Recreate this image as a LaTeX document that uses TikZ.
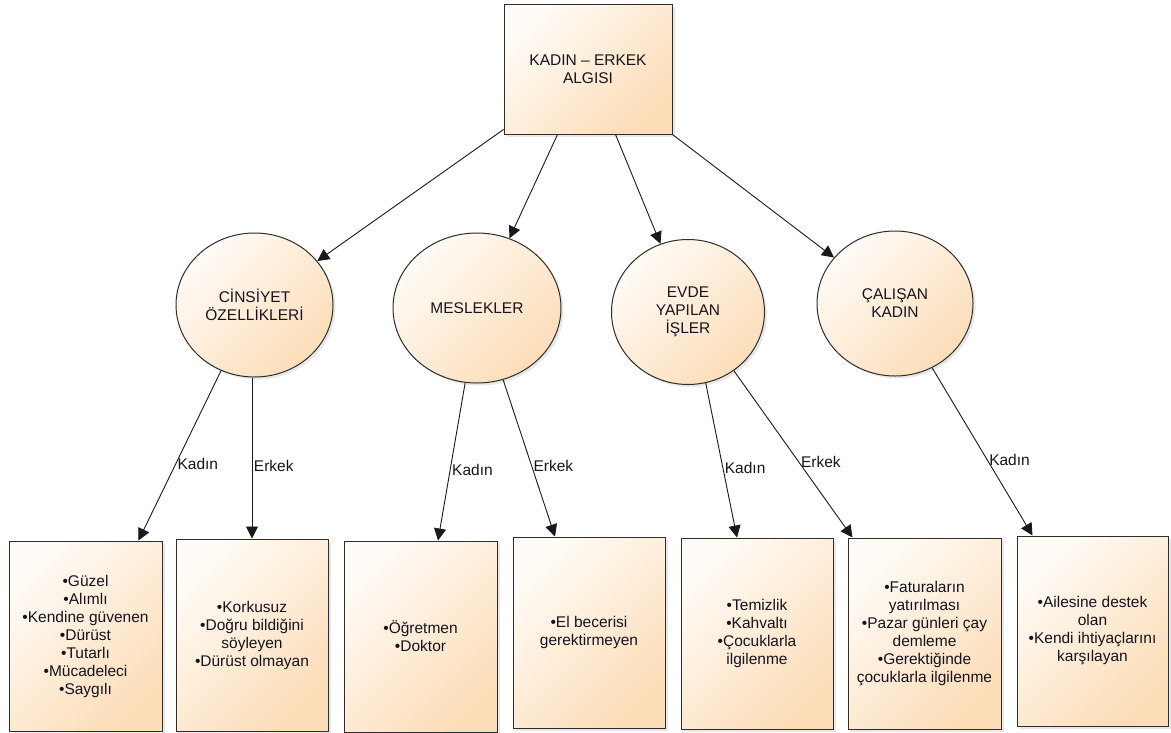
\documentclass[tikz,border=0pt]{standalone}
\usepackage{fontspec}
\setmainfont{Liberation Sans}
\usetikzlibrary{arrows.meta,shapes.geometric,shadows}
\definecolor{fillA}{RGB}{255,251,246}
\definecolor{fillB}{RGB}{252,221,184}
\definecolor{edge}{RGB}{45,45,45}
\definecolor{txt}{RGB}{20,20,30}
\begin{document}
\begin{tikzpicture}[x=1pt,y=-1pt,
  every node/.style={font=\fontsize{15.5}{18}\selectfont, text=txt},
  fillstyle/.style={top color=fillA, bottom color=fillB, shading angle=45,
    draw=edge, line width=1pt,
    drop shadow={shadow xshift=2.5pt, shadow yshift=-2.5pt, opacity=0.18}},
  box/.style={fillstyle, rectangle, inner sep=0pt, align=center},
  circ/.style={fillstyle, ellipse, inner sep=0pt, align=center},
  arr/.style={draw=black!90, line width=0.9pt, -{Triangle[length=12pt,width=12pt]}},
  lab/.style={anchor=west, inner sep=1.5pt, pos=0.55}]
\useasboundingbox (0,0) rectangle (1171,732);

% top
\node[box, minimum width=168pt, minimum height=130pt] (top) at (588,69) {KADIN – ERKEK\\ALGISI};

% circles
\node[circ, minimum width=157pt, minimum height=144pt] (c1) at (254.5,305) {CİNSİYET\\ÖZELLİKLERİ};
\node[circ, minimum width=168pt, minimum height=150pt] (c2) at (477,308) {MESLEKLER};
\node[circ, minimum width=153pt, minimum height=145pt] (c3) at (688,312) {EVDE\\YAPILAN\\İŞLER};
\node[circ, minimum width=156pt, minimum height=145pt] (c4) at (895,303.5) {ÇALIŞAN\\KADIN};

% bottom boxes
\node[box, minimum width=153pt, minimum height=190pt] (b1) at (85.5,636) {•Güzel\\•Alımlı\\•Kendine güvenen\\•Dürüst\\•Tutarlı\\•Mücadeleci\\•Saygılı};
\node[box, minimum width=152pt, minimum height=192pt] (b2) at (252,635) {•Korkusuz\\•Doğru bildiğini\\söyleyen\\•Dürüst olmayan};
\node[box, minimum width=153pt, minimum height=191pt] (b3) at (420.5,636.5) {•Öğretmen\\•Doktor};
\node[box, minimum width=152pt, minimum height=191pt] (b4) at (589,632.5) {•El becerisi\\gerektirmeyen};
\node[box, minimum width=152pt, minimum height=191pt] (b5) at (757,633.5) {•Temizlik\\•Kahvaltı\\•Çocuklarla\\ilgilenme};
\node[box, minimum width=153pt, minimum height=191pt] (b6) at (924.5,633.5) {•Faturaların\\yatırılması\\•Pazar günleri çay\\demleme\\•Gerektiğinde\\çocuklarla ilgilenme};
\node[box, minimum width=151pt, minimum height=190pt] (b7) at (1092.5,631) {•Ailesine destek\\olan\\•Kendi ihtiyaçlarını\\karşılayan};

% connectors from top
\draw[arr] ([yshift=5pt]top.south west) -- (c1.35);
\draw[arr] ([xshift=54pt]top.south west) -- (c2.65);
\draw[arr] ([xshift=112pt]top.south west) -- (c3.112);
\draw[arr] (top.south east) -- (c4.143);

% connectors to bottom boxes
\draw[arr] (c1.243) -- node[lab]{Kadın} ([xshift=-24pt]b1.north east);
\draw[arr] (b2.north |- c1.south) -- node[lab]{Erkek} (b2.north);
\draw[arr] (c2.261) -- node[lab]{Kadın} ([xshift=17.5pt]b3.north);
\draw[arr] (c2.290) -- node[lab]{Erkek} ([xshift=-34pt]b4.north);
\draw[arr] (c3.284) -- node[lab]{Kadın} ([xshift=-20pt]b5.north);
\draw[arr] (c3.308) -- node[lab]{Erkek} ([xshift=5pt]b6.north west);
\draw[arr] (c4.300) -- node[lab]{Kadın} ([xshift=16pt]b7.north west);
\end{tikzpicture}
\end{document}
